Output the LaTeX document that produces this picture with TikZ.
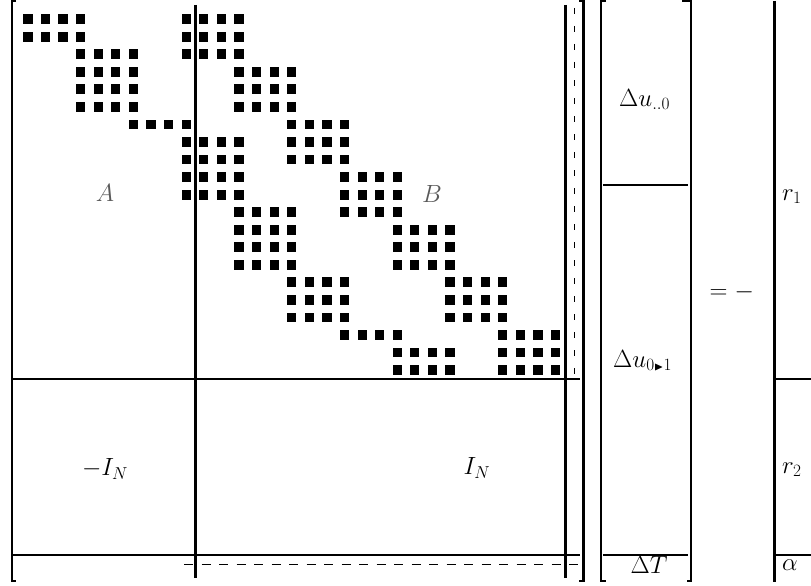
\documentclass[tikz,border=0pt]{standalone}
\usepackage{amssymb}
\begin{document}
\begin{tikzpicture}[x=1pt,y=-1pt,
  heavy/.style={line width=2.3pt},
  mid/.style={line width=2.1pt},
  dshv/.style={line width=0.8pt, dash pattern=on 6pt off 12pt},
  dshh/.style={line width=0.8pt, dash pattern=on 9pt off 8.5pt},
  lbl/.style={inner sep=0pt, font=\fontsize{24}{28}\selectfont},
  sq/.style={fill=black}]
\useasboundingbox (0,0) rectangle (811,586);
% squares of the block matrix
\foreach \r/\a/\b in {0/0/9,1/0/9,2/3/9,3/3/12,4/3/12,5/3/12,6/6/15,7/9/15,8/9/15,
  9/9/18,10/9/18,11/12/18,12/12/21,13/12/21,14/12/21,15/15/24,16/15/24,17/15/24,
  18/18/27,19/21/27,20/21/27}{
  \foreach \k in {0,...,3}{
    \fill[sq] ({23.3+17.59*(\a+\k)},{14.2+17.55*\r}) rectangle ++(9.2,9.8);
    \fill[sq] ({23.3+17.59*(\b+\k)},{14.2+17.55*\r}) rectangle ++(9.2,9.8);
  }
}
% big matrix brackets and partition lines
\draw[heavy] (16,0.8) -- (12,0.8) -- (12,581) -- (16,581);
\draw[heavy] (579,0.8) -- (583.5,0.8) -- (583.5,581) -- (579,581);
\draw[heavy] (195.5,5) -- (195.5,578);
\draw[heavy] (565.5,5) -- (565.5,578);
\draw[mid] (13,379) -- (580,379);
\draw[mid] (13,555) -- (580,555);
\draw[dshv] (574,8) -- (574,377);
\draw[dshh] (184,564) -- (578,564);
% unknown vector
\draw[heavy] (606,0.8) -- (601,0.8) -- (601,581) -- (606,581);
\draw[heavy] (682,0.8) -- (691,0.8) -- (691,581) -- (687,581);
\draw[mid] (603,185) -- (688,185);
\draw[mid] (603,555) -- (688,555);
% right-hand side vector
\draw[heavy] (774.5,1) -- (774.5,582);
\draw[mid] (775,379) -- (815,379);
\draw[mid] (775,555) -- (815,555);
% labels
\node[lbl, text=black!65] (A) at (105,193) {$A$};
\node[lbl, text=black!65] (B) at (432,194) {$B$};
\node[lbl] (mIN) at (105,469) {$-I_N$};
\node[lbl] (IN) at (477,468) {$I_N$};
\node[lbl, anchor=base west] (du0) at (619,106) {$\Delta u_{..0}$};
\node[lbl, anchor=base west] (du1) at (613,367) {$\Delta u_{0{\scriptscriptstyle\blacktriangleright}1}$};
\node[lbl, anchor=base] (dT) at (649,573) {$\Delta T$};
\node[lbl, anchor=base west] (eq) at (709.5,298) {$=-$};
\node[lbl, anchor=base west] (r1) at (782,200) {$r_1$};
\node[lbl, anchor=base west] (r2) at (782,473) {$r_2$};
\node[lbl, anchor=base west] (al) at (782,570) {$\alpha$};
\end{tikzpicture}
\end{document}
